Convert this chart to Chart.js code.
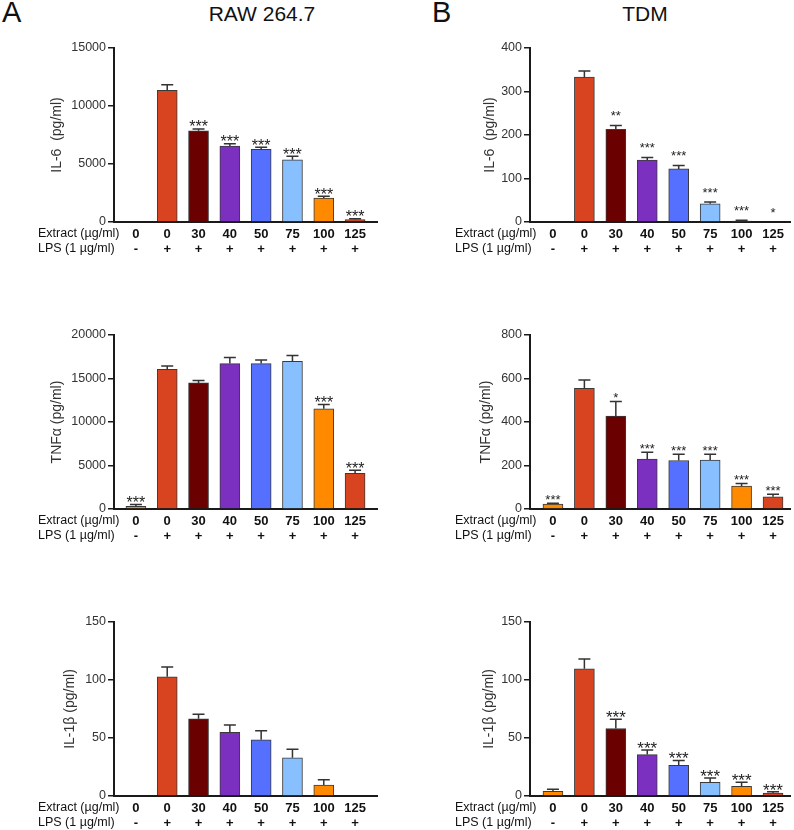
<!DOCTYPE html>
<html>
<head>
<meta charset="utf-8">
<script src="https://cdn.jsdelivr.net/npm/chart.js@4/dist/chart.umd.min.js"></script>
<style>
body{margin:0;width:794px;height:830px;overflow:hidden;background:#fff;position:relative;font-family:"Liberation Sans",Arial,sans-serif;color:#111}
canvas{position:absolute}
.letter{position:absolute;top:-2px;font-size:29px;line-height:29px}
.title{position:absolute;top:3px;width:200px;text-align:center;font-size:21px;line-height:21px}
</style>
</head>
<body>
<div class="letter" style="left:2px">A</div>
<div class="letter" style="left:432px">B</div>
<div class="title" style="left:162px">RAW 264.7</div>
<div class="title" style="left:545px">TDM</div>

<canvas id="rawIl6" width="397" height="228" style="left:0;top:30px"></canvas>
<canvas id="tdmIl6" width="397" height="228" style="left:397px;top:30px"></canvas>
<canvas id="rawTnf" width="397" height="228" style="left:0;top:317px"></canvas>
<canvas id="tdmTnf" width="397" height="228" style="left:397px;top:317px"></canvas>
<canvas id="rawIl1" width="397" height="228" style="left:0;top:604px"></canvas>
<canvas id="tdmIl1" width="397" height="228" style="left:397px;top:604px"></canvas>

<script>
// ===== GROUPS =====
const extractDoses = ["0", "0", "30", "40", "50", "75", "100", "125"];
const lpsSigns = ["-", "+", "+", "+", "+", "+", "+", "+"];
const barColors = ["#ff8a00", "#d8441f", "#6a0000", "#7b30c0", "#5570ff", "#88bfff", "#ff8a00", "#d8441f"];

// ===== RAW 264.7 =====
const rawIl6 = [0, 11350, 7870, 6550, 6260, 5370, 2070, 200];
const rawIl6Err = [0, 490, 150, 200, 180, 290, 140, 90];
const rawIl6Sig = ["", "", "***", "***", "***", "***", "***", "***"];

const rawTnf = [300, 16060, 14490, 16710, 16710, 16980, 11510, 4090];
const rawTnfErr = [230, 380, 270, 690, 420, 650, 500, 350];
const rawTnfSig = ["***", "", "", "", "", "", "***", "***"];

const rawIl1 = [0, 102.7, 66.5, 54.8, 48.5, 33, 9.5, 0];
const rawIl1Err = [0, 8.6, 4, 6.3, 7.7, 7.4, 4.5, 0];
const rawIl1Sig = ["", "", "", "", "", "", "", ""];

// ===== TDM =====
const tdmIl6 = [0, 333, 213, 142.5, 122, 42, 2, 0];
const tdmIl6Err = [0, 14, 9, 6, 8, 4, 2, 0];
const tdmIl6Sig = ["", "", "**", "***", "***", "***", "***", "*"];

const tdmTnf = [23, 555, 427, 229, 223, 225, 105, 56];
const tdmTnfErr = [3, 38, 67, 32, 29, 27, 12, 12];
const tdmTnfSig = ["***", "", "*", "***", "***", "***", "***", "***"];

const tdmIl1 = [4, 109.7, 58.2, 35.7, 26.5, 11.8, 8.4, 2.6];
const tdmIl1Err = [1.8, 8.3, 8, 4, 4, 3.7, 3.4, 1.1];
const tdmIl1Sig = ["", "", "***", "***", "***", "***", "***", "***"];

const FONT = "'Liberation Sans', Arial, sans-serif";

// ===== ERROR BARS, STARS, GROUP ROWS =====
function overlay(values, errors, stars, p){
    return {
        id: "overlay",
        afterDatasetsDraw(chart){
            const ctx = chart.ctx, xs = chart.scales.x, ys = chart.scales.y;
            ctx.save();
            values.forEach((v,i)=>{
                const cx = xs.getPixelForValue(i);
                const base = ys.getPixelForValue(v);
                const top = ys.getPixelForValue(v + errors[i]);
                if(errors[i] > 0){
                    ctx.strokeStyle = "#333";
                    ctx.lineWidth = 1.5;
                    ctx.beginPath();
                    ctx.moveTo(cx, base); ctx.lineTo(cx, top);
                    ctx.moveTo(cx-6, top); ctx.lineTo(cx+6, top);
                    ctx.stroke();
                }
                if(stars[i]){
                    ctx.fillStyle = "#222";
                    ctx.font = p.starSize+"px "+FONT;
                    ctx.textAlign = "center";
                    ctx.textBaseline = "alphabetic";
                    ctx.fillText(stars[i], cx, top - p.starGap + 0.58*p.starSize);
                }
            });

            const bottom = chart.chartArea.bottom;
            ctx.fillStyle = "#111";
            ctx.textBaseline = "middle";
            ctx.textAlign = "center";
            ctx.font = "bold 13px "+FONT;
            extractDoses.forEach((d,i)=>ctx.fillText(d, xs.getPixelForValue(i), bottom+12));
            lpsSigns.forEach((s,i)=>ctx.fillText(s, xs.getPixelForValue(i), bottom+27));
            ctx.textAlign = "left";
            ctx.font = "12.5px "+FONT;
            ctx.fillText("Extract (µg/ml)", p.rowX, bottom+12);
            ctx.fillText("LPS (1 µg/ml)", p.rowX, bottom+27);
            ctx.restore();
        }
    };
}

// ===== ONE PANEL =====
function makePanel(id, values, errors, stars, yMax, yStep, yTitle, p){
    const padLeft = p.titleX - 8.4;
    new Chart(document.getElementById(id).getContext("2d"), {
        type: "bar",
        data: {
            datasets: [{
                data: values.map((v,i)=>({x:i, y:v})),
                backgroundColor: barColors,
                borderColor: "#3a3a3a",
                borderWidth: 1,
                barThickness: 20
            }]
        },
        options: {
            responsive: false,
            animation: false,
            layout: {padding: {left: padLeft, top: 18, right: p.right, bottom: 0}},
            plugins: {legend: {display: false}, tooltip: {enabled: false}},
            scales: {
                x: {
                    type: "linear", min: p.xMin, max: p.xMax, offset: false,
                    grid: {display: false, offset: false},
                    ticks: {display: false},
                    border: {color: "#1a1a1a", width: 2},
                    afterFit: s=>{ s.height = 36; }
                },
                y: {
                    min: 0, max: yMax,
                    ticks: {stepSize: yStep, callback: v=>String(v), color: "#333", padding: 2,
                            font: {family: FONT, size: 12.5}},
                    grid: {display: true, drawOnChartArea: false, tickLength: 6, color: "#1a1a1a", lineWidth: 1.5},
                    border: {color: "#1a1a1a", width: 2},
                    title: {display: true, text: yTitle, color: "#333", padding: 0,
                            font: {family: FONT, size: 14}},
                    afterFit: s=>{ s.width = p.axisX - padLeft; }
                }
            }
        },
        plugins: [overlay(values, errors, stars, p)]
    });
}

const leftCol = {axisX:114, right:20, xMin:-0.7, xMax:7.7, rowX:38};
const rightCol = {axisX:133, right:4, xMin:-0.73, xMax:7.54, rowX:58};

makePanel("rawIl6", rawIl6, rawIl6Err, rawIl6Sig, 15000, 5000, "IL-6  (pg/ml)",
    Object.assign({titleX:57, starSize:16, starGap:6}, leftCol));
makePanel("tdmIl6", tdmIl6, tdmIl6Err, tdmIl6Sig, 400, 100, "IL-6  (pg/ml)",
    Object.assign({titleX:93, starSize:13, starGap:13}, rightCol));
makePanel("rawTnf", rawTnf, rawTnfErr, rawTnfSig, 20000, 5000, "TNFα (pg/ml)",
    Object.assign({titleX:57, starSize:16, starGap:6}, leftCol));
makePanel("tdmTnf", tdmTnf, tdmTnfErr, tdmTnfSig, 800, 200, "TNFα (pg/ml)",
    Object.assign({titleX:89, starSize:13, starGap:7}, rightCol));
makePanel("rawIl1", rawIl1, rawIl1Err, rawIl1Sig, 150, 50, "IL-1β (pg/ml)",
    Object.assign({titleX:70, starSize:16, starGap:6}, leftCol));
makePanel("tdmIl1", tdmIl1, tdmIl1Err, tdmIl1Sig, 150, 50, "IL-1β (pg/ml)",
    Object.assign({titleX:92, starSize:17, starGap:6}, rightCol));
</script>
</body>
</html>
